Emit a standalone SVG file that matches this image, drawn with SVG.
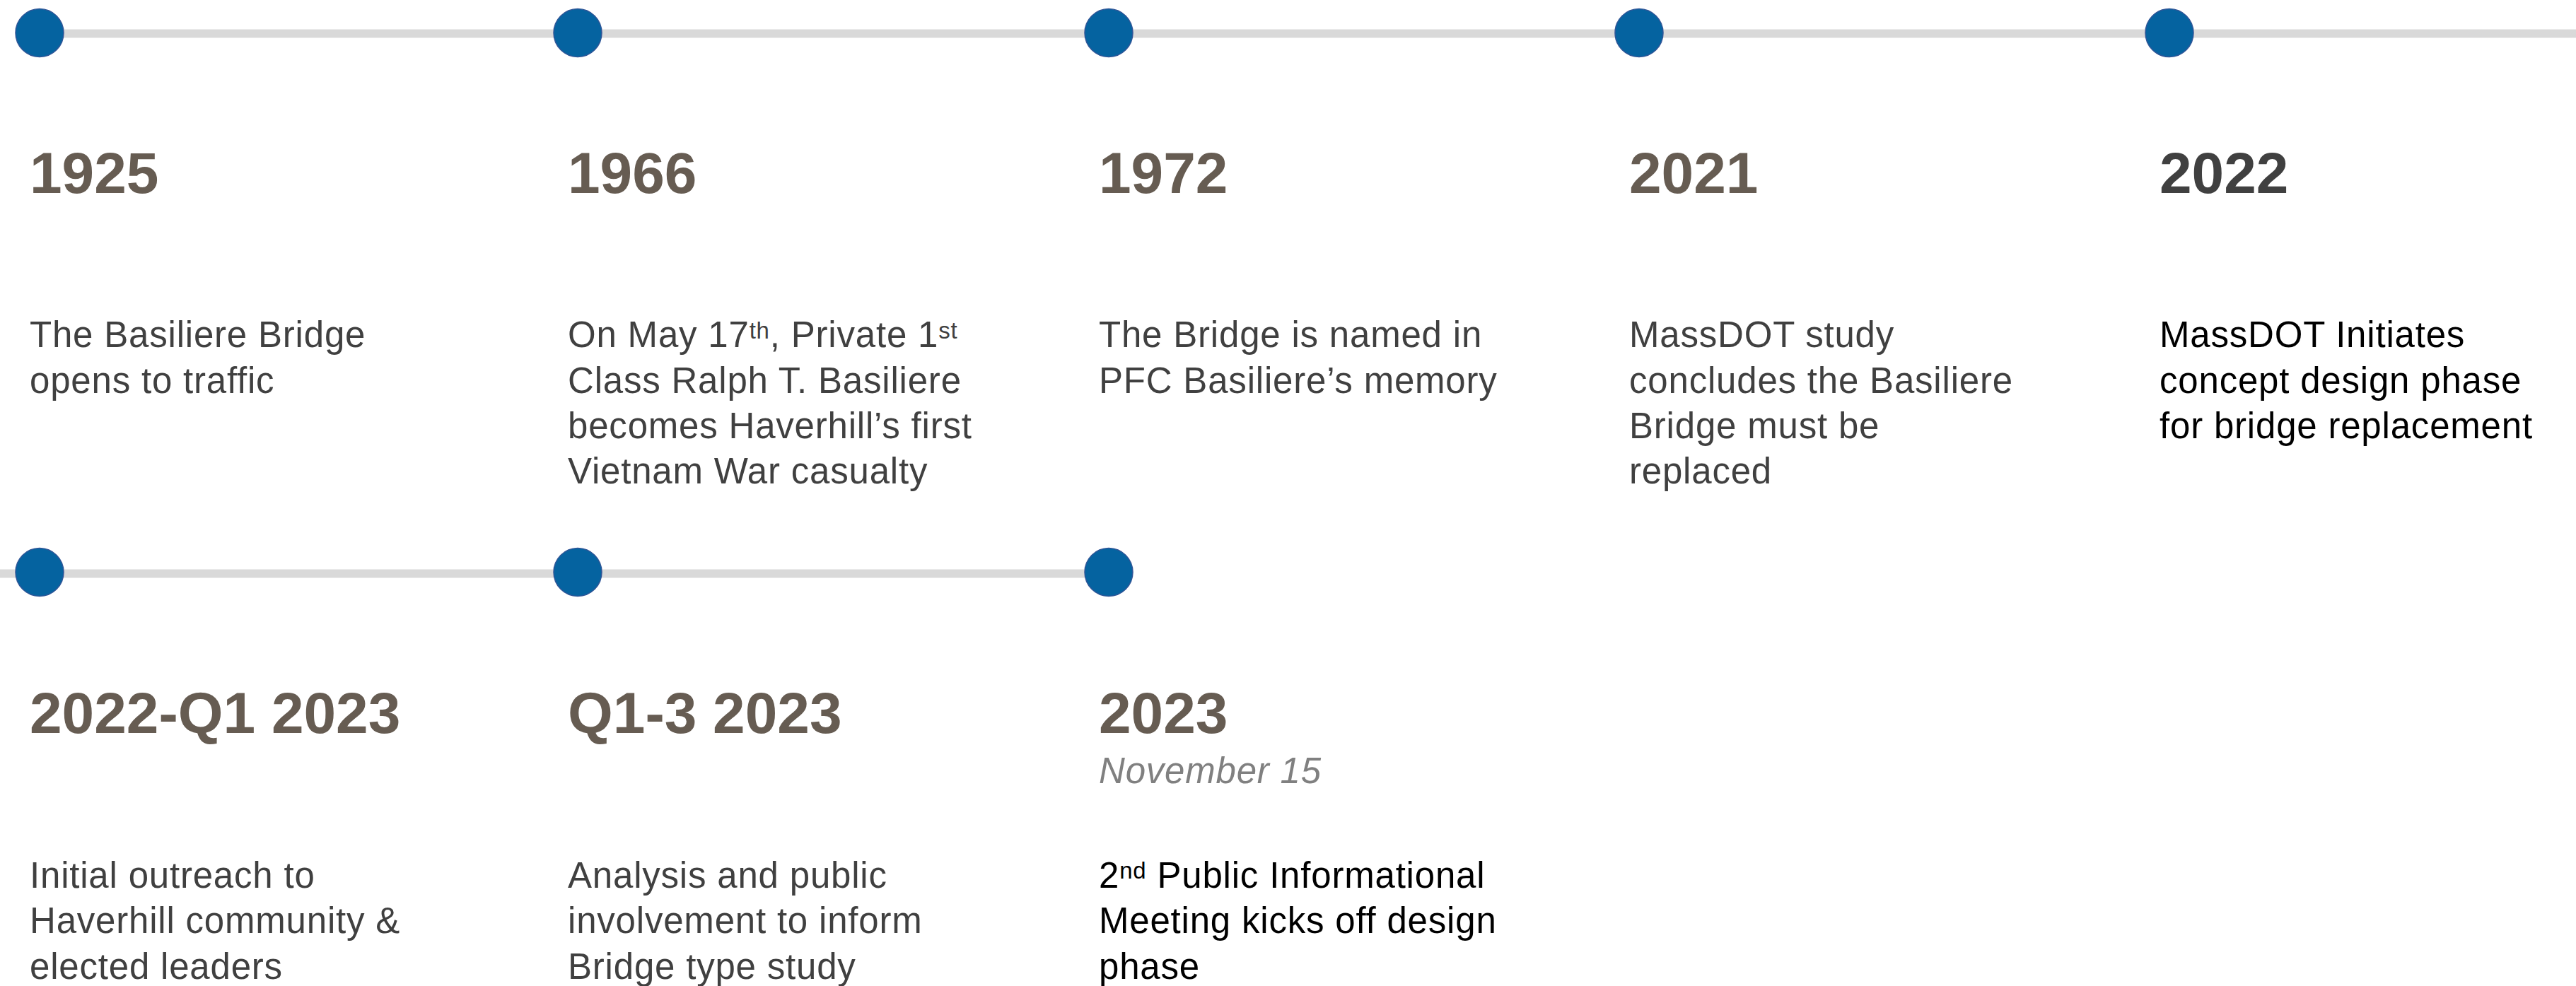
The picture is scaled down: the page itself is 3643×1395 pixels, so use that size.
<svg xmlns="http://www.w3.org/2000/svg" width="3643" height="1395" viewBox="0 0 3643 1395">
<style>
.bg{fill:#ffffff}
.track{fill:#D9D9D9}
.dot{fill:#0563A0;stroke:#2F5597;stroke-width:1.5}
.yr{font-family:"Liberation Sans",Arial,sans-serif;font-weight:bold;font-size:82px;fill:#665C52}
.yr.dk{fill:#404040}
.body{font-family:"Liberation Sans",Arial,sans-serif;font-size:51px;letter-spacing:0.8px;fill:#404040}
.body.blk{fill:#000000}
.sub{font-family:"Liberation Sans",Arial,sans-serif;font-style:italic;font-size:51px;letter-spacing:0.8px;fill:#808080}
.sup{font-size:33px}
</style>
<rect class="bg" x="0" y="0" width="3643" height="1395"/>
<g id="connectors">
<rect class="track" x="56" y="41.5" width="3587" height="12"/>
<rect class="track" x="0" y="805.5" width="1568" height="12"/>
</g>
<g id="node-1925">
<circle class="dot" cx="56" cy="46.5" r="34"/>
<text class="yr" x="42" y="272.5">1925</text>
<text class="body" x="42" y="491.3">The Basiliere Bridge</text>
<text class="body" x="42" y="555.6">opens to traffic</text>
</g>
<g id="node-1966">
<circle class="dot" cx="817" cy="46.5" r="34"/>
<text class="yr" x="803" y="272.5">1966</text>
<text class="body" x="803" y="491.3">On May 17<tspan class="sup" dy="-12.5">th</tspan><tspan dy="12.5">, Private 1</tspan><tspan class="sup" dy="-12.5">st</tspan></text>
<text class="body" x="803" y="555.6">Class Ralph T. Basiliere</text>
<text class="body" x="803" y="619.8">becomes Haverhill’s first</text>
<text class="body" x="803" y="684.1">Vietnam War casualty</text>
</g>
<g id="node-1972">
<circle class="dot" cx="1568" cy="46.5" r="34"/>
<text class="yr" x="1554" y="272.5">1972</text>
<text class="body" x="1554" y="491.3">The Bridge is named in</text>
<text class="body" x="1554" y="555.6">PFC Basiliere’s memory</text>
</g>
<g id="node-2021">
<circle class="dot" cx="2318" cy="46.5" r="34"/>
<text class="yr" x="2304" y="272.5">2021</text>
<text class="body" x="2304" y="491.3">MassDOT study</text>
<text class="body" x="2304" y="555.6">concludes the Basiliere</text>
<text class="body" x="2304" y="619.8">Bridge must be</text>
<text class="body" x="2304" y="684.1">replaced</text>
</g>
<g id="node-2022">
<circle class="dot" cx="3068" cy="46.5" r="34"/>
<text class="yr dk" x="3054" y="272.5">2022</text>
<text class="body blk" x="3054" y="491.3">MassDOT Initiates</text>
<text class="body blk" x="3054" y="555.6">concept design phase</text>
<text class="body blk" x="3054" y="619.8">for bridge replacement</text>
</g>
<g id="node-2022-q1-2023">
<circle class="dot" cx="56" cy="809.5" r="34"/>
<text class="yr" x="42" y="1037">2022-Q1 2023</text>
<text class="body" x="42" y="1255.5">Initial outreach to</text>
<text class="body" x="42" y="1320">Haverhill community &amp;</text>
<text class="body" x="42" y="1384.5">elected leaders</text>
</g>
<g id="node-q1-3-2023">
<circle class="dot" cx="817" cy="809.5" r="34"/>
<text class="yr" x="803" y="1037">Q1-3 2023</text>
<text class="body" x="803" y="1255.5">Analysis and public</text>
<text class="body" x="803" y="1320">involvement to inform</text>
<text class="body" x="803" y="1384.5">Bridge type study</text>
</g>
<g id="node-2023">
<circle class="dot" cx="1568" cy="809.5" r="34"/>
<text class="yr" x="1554" y="1037">2023</text>
<text class="sub" x="1554" y="1108.3">November 15</text>
<text class="body blk" x="1554" y="1255.5">2<tspan class="sup" dy="-12.5">nd</tspan><tspan dy="12.5"> Public Informational</tspan></text>
<text class="body blk" x="1554" y="1320">Meeting kicks off design</text>
<text class="body blk" x="1554" y="1384.5">phase</text>
</g>
</svg>
